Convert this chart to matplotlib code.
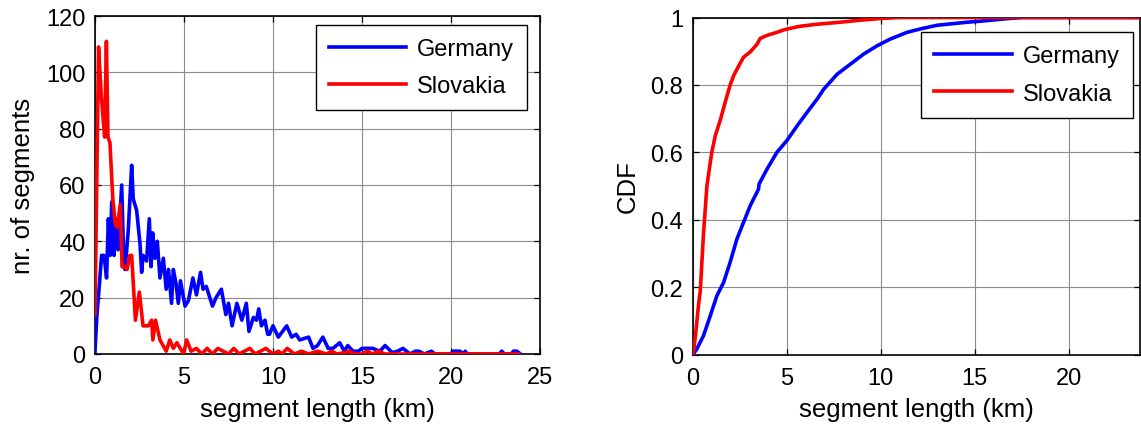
import matplotlib
matplotlib.use("Agg")
import matplotlib.pyplot as plt

plt.rcParams['font.family'] = ['Liberation Sans', 'DejaVu Sans']

# ---- histogram data (segment length in km, number of segments) ----
germany_km = [0.0, 0.1, 0.25, 0.37, 0.5, 0.6, 0.65, 0.75, 0.85, 0.94, 1.07, 1.18, 1.3, 1.5, 1.6,
              1.69, 1.87, 2.06, 2.15, 2.34, 2.53, 2.62, 2.7, 2.9, 3.05, 3.15, 3.24, 3.37, 3.5, 3.65,
              3.84, 4.0, 4.13, 4.3, 4.4, 4.55, 4.68, 4.8, 5.06, 5.25, 5.5, 5.7, 5.93, 6.07, 6.25,
              6.45, 6.6, 6.8, 7.1, 7.35, 7.5, 7.7, 7.97, 8.25, 8.5, 8.65, 8.9, 9.07, 9.2, 9.35,
              9.55, 9.7, 9.8, 10.0, 10.3, 10.77, 11.05, 11.3, 11.5, 12.0, 12.25, 12.5, 12.8, 13.1,
              13.37, 13.75, 14.0, 14.2, 14.5, 14.8, 15.0, 15.3, 15.6, 16.0, 16.3, 16.7, 17.0, 17.3,
              17.7, 18.0, 18.2, 18.5, 18.9, 19.1, 20.0, 20.1, 20.3, 20.5, 20.7, 20.8, 20.9, 22.7,
              22.85, 23.0, 23.4, 23.5, 23.7, 23.9]
germany_cnt = [1, 13, 25, 35, 35, 30, 27, 48, 35, 54, 35, 48, 37, 60, 37,
               30, 44, 67, 55, 51, 39, 29, 35, 33, 48, 31, 43, 34, 40, 27,
               34, 23, 30, 18, 30, 25, 18, 26, 17, 19, 27, 21, 29, 23, 24,
               20, 17, 20, 23, 14, 18, 10, 18, 12, 18, 8, 13, 12, 16, 10,
               12, 7, 7, 10, 6, 10, 6, 7, 5, 6, 2, 3, 6, 2,
               2, 4, 1, 3, 1, 1, 2, 2, 2, 1, 3, 0.5, 1, 2,
               0, 1, 1, 0, 1, 0, 0, 1, 1, 1, 0, 1, 0, 0,
               1, 0, 0, 1, 1, 0]

slovakia_km = [0.0, 0.2, 0.35, 0.54, 0.64, 0.73, 0.84, 1.0, 1.14, 1.25, 1.42, 1.52, 1.7, 1.8,
               1.95, 2.06, 2.27, 2.49, 2.7, 3.0, 3.18, 3.25, 3.4, 3.65, 4.0, 4.2, 4.4, 4.6, 4.98,
               5.15, 5.4, 5.7, 6.0, 6.3, 6.6, 6.9, 7.2, 7.5, 7.8, 8.1, 8.4, 8.7, 9.0, 9.3, 9.6,
               10.0, 10.3, 10.5, 10.8, 11.2, 11.6, 12.0, 12.5, 13.0, 13.3, 13.6, 14.0, 14.3, 14.6,
               15.0, 15.3, 15.6, 15.9, 16.3, 17.0, 18.0, 19.0, 20.0, 21.0, 22.0, 23.0, 23.8]
slovakia_cnt = [14, 109, 92, 77, 111, 77, 75, 55, 46, 45, 53, 31, 31, 30,
                35, 35, 12, 22, 10, 10, 12, 5, 12, 5, 1, 5, 2, 4, 0,
                5, 1, 2, 0, 2, 0, 2, 1, 0, 2, 0, 1, 2, 0, 1, 2,
                0, 1, 0, 2, 0, 1, 0, 1, 0, 1, 0, 0.5, 1, 0,
                0, 1, 0, 1, 0, 0, 0, 0, 0, 0, 0, 0, 0]

# ---- CDF data ----
germany_cdf_km = [0, 0.2, 0.56, 0.92, 1.27, 1.63, 1.98, 2.34, 2.69, 3.05, 3.49, 3.52, 3.94, 4.47,
                  5.0, 5.55, 6.08, 6.61, 6.97, 7.68, 8.39, 9.1, 9.8, 10.5, 11.4, 12.1, 13.0,
                  14.6, 15.5, 16.6, 17.5, 23.8]
germany_cdf = [0.0, 0.016, 0.056, 0.115, 0.174, 0.214, 0.274, 0.343, 0.392, 0.442, 0.491, 0.506,
               0.55, 0.60, 0.635, 0.679, 0.719, 0.758, 0.788, 0.832, 0.862, 0.892, 0.916, 0.936,
               0.956, 0.966, 0.977, 0.986, 0.99, 0.996, 1.0, 1.0]

slovakia_cdf_km = [0, 0.12, 0.3, 0.39, 0.56, 0.74, 0.92, 1.0, 1.19, 1.45, 1.72, 1.98, 2.16, 2.42,
                   2.69, 3.05, 3.4, 3.58, 3.94, 4.47, 4.82, 5.19, 5.7, 6.6, 7.84, 8.9, 10.0, 11.0,
                   23.8]
slovakia_cdf = [0.0, 0.05, 0.15, 0.19, 0.36, 0.50, 0.57, 0.60, 0.65, 0.695, 0.75, 0.80, 0.827,
                0.855, 0.882, 0.898, 0.92, 0.938, 0.947, 0.956, 0.963, 0.968, 0.974, 0.98, 0.986,
                0.992, 0.997, 1.0, 1.0]

left_xticks = [0, 5, 10, 15, 20, 25]
left_yticks = [0, 20, 40, 60, 80, 100, 120]
right_xticks = [0, 5, 10, 15, 20]
right_yticks = [0, 0.2, 0.4, 0.6, 0.8, 1]
right_yticklabels = ['0', '0.2', '0.4', '0.6', '0.8', '1']

W, H = 1141, 427
fig = plt.figure(figsize=(W / 100, H / 100), dpi=100)

ax1 = fig.add_axes([95 / W, (H - 355) / H, 445 / W, 338 / H])
ax2 = fig.add_axes([693 / W, (H - 355.5) / H, 447 / W, 337 / H])

TICK_FS = 17
LABEL_FS = 18.5
BLUE = (0, 0, 1)
RED = (1, 0, 0)
LW = 2.6

ax1.plot(germany_km, germany_cnt, color=BLUE, lw=LW, label='Germany', zorder=3)
ax1.plot(slovakia_km, slovakia_cnt, color=RED, lw=LW, label='Slovakia', zorder=3)
ax1.set_xlim(0, 25)
ax1.set_ylim(0, 120)
ax1.set_xticks(left_xticks)
ax1.set_yticks(left_yticks)
ax1.set_xlabel('segment length (km)', fontsize=LABEL_FS, labelpad=6)
ax1.set_ylabel('nr. of segments', fontsize=LABEL_FS, labelpad=8)

ax2.plot(germany_cdf_km, germany_cdf, color=BLUE, lw=LW, label='Germany', zorder=3)
ax2.plot(slovakia_cdf_km, slovakia_cdf, color=RED, lw=LW, label='Slovakia', zorder=3)
ax2.set_xlim(0, 23.8)
ax2.set_ylim(0, 1)
ax2.set_xticks(right_xticks)
ax2.set_yticks(right_yticks)
ax2.set_yticklabels(right_yticklabels)
ax2.set_xlabel('segment length (km)', fontsize=LABEL_FS, labelpad=6)
ax2.set_ylabel('CDF', fontsize=LABEL_FS, labelpad=8)

for ax in (ax1, ax2):
    ax.grid(True, color='0.55', linestyle='-', linewidth=0.8)
    ax.set_axisbelow(True)
    ax.tick_params(direction='in', length=4, width=0.9, top=True, right=True,
                   labelsize=TICK_FS, pad=9, colors='black')
    ax.tick_params(axis='y', pad=7)
    for s in ax.spines.values():
        s.set_linewidth(1.2)
        s.set_color('black')

leg_kw = dict(loc='upper right', fontsize=TICK_FS, frameon=True, fancybox=False,
              edgecolor='black', framealpha=1, borderaxespad=0, handlelength=3.3,
              handletextpad=0.45, borderpad=0.55, labelspacing=0.65)
l1 = ax1.legend(bbox_to_anchor=(0.971, 0.973), **leg_kw)
l2 = ax2.legend(bbox_to_anchor=(0.984, 0.956), **leg_kw)
for l in (l1, l2):
    l.get_frame().set_linewidth(1.0)

fig.savefig('out.png', dpi=100)
